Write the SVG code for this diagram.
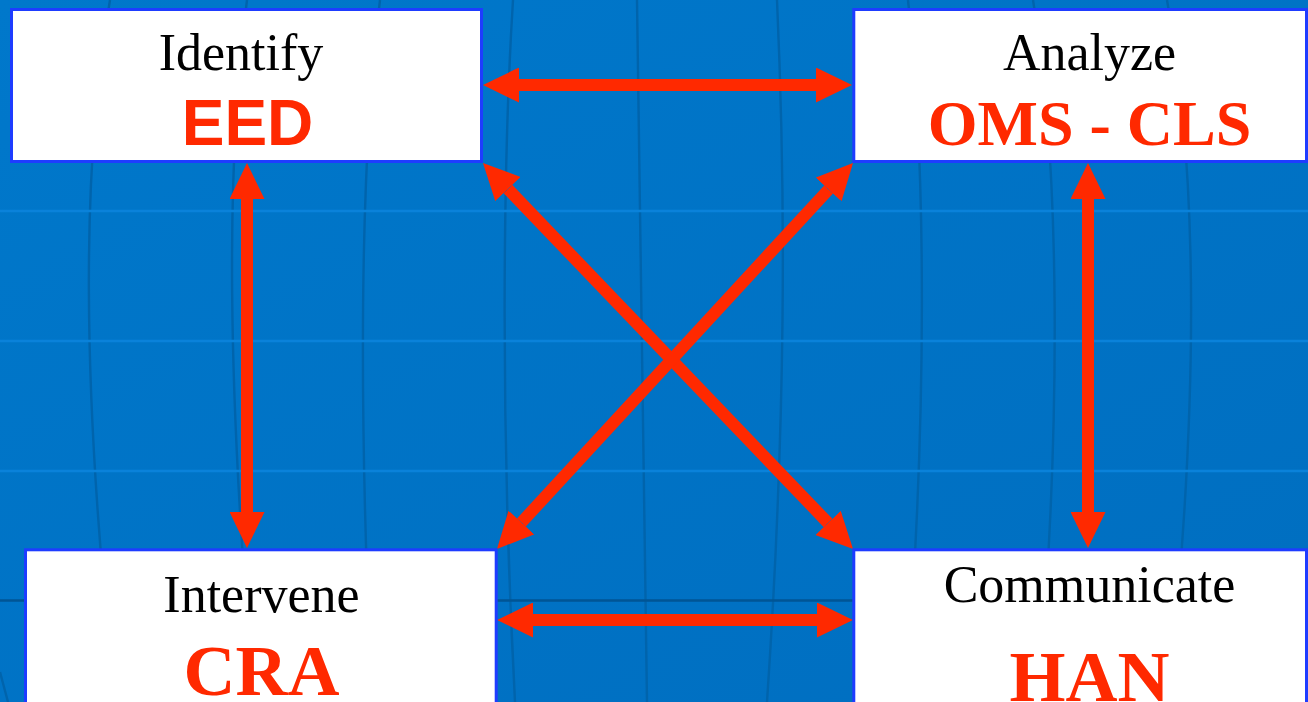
<svg xmlns="http://www.w3.org/2000/svg" width="1308" height="702" viewBox="0 0 1308 702">
  <defs>
    <linearGradient id="bg" x1="0" y1="0" x2="1" y2="1">
      <stop offset="0" stop-color="#0078CB"/>
      <stop offset="1" stop-color="#006EC0"/>
    </linearGradient>
    <marker id="ah" markerUnits="userSpaceOnUse" viewBox="0 0 36 35" markerWidth="36" markerHeight="35" refX="0" refY="17.5" orient="auto-start-reverse">
      <path d="M0,0 L36,17.5 L0,35 Z" fill="#FF2900"/>
    </marker>
  </defs>
  <style>
    .mer { fill: none; stroke: #0064AC; stroke-width: 2.4; }
    .lat { stroke: #0A82DA; stroke-width: 2.5; }
    .latd { stroke: #005595; stroke-width: 2.5; }
    .box { fill: #FFFFFF; stroke: #1E3CFF; stroke-width: 3; }
    .lbl { font-family: "Liberation Serif", "Times New Roman", serif; font-size: 52px; fill: #000000; text-anchor: middle; }
    .code { font-family: "Liberation Serif", "Times New Roman", serif; font-weight: bold; fill: #FF2900; text-anchor: middle; }
    .codes { font-family: "Liberation Sans", Arial, sans-serif; font-weight: bold; fill: #FF2900; text-anchor: middle; }
    .arr { stroke: #FF2900; stroke-width: 12; fill: none; marker-start: url(#ah); marker-end: url(#ah); }
  </style>

  <g id="background">
    <rect x="0" y="0" width="1308" height="702" fill="url(#bg)"/>
    <path class="mer" d="M0,672 L8,702"/>
    <path class="mer" d="M110,0 C82,160 80,380 115,702"/>
    <path class="mer" d="M247,0 C226,160 226,380 254,702"/>
    <path class="mer" d="M380,0 C360,160 358,400 372,702"/>
    <path class="mer" d="M513,0 C503,160 500,420 515,702"/>
    <path class="mer" d="M637,0 C640,200 645,450 647,702"/>
    <path class="mer" d="M777,0 C786,200 786,420 767,702"/>
    <path class="mer" d="M908,0 C926,160 928,420 905,702"/>
    <path class="mer" d="M1033,0 C1060,160 1062,420 1038,702"/>
    <path class="mer" d="M1167,0 C1198,170 1200,400 1168,702"/>
    <line class="lat" x1="0" y1="211" x2="1308" y2="211"/>
    <line class="lat" x1="0" y1="341" x2="1308" y2="341"/>
    <line class="lat" x1="0" y1="471" x2="1308" y2="471"/>
    <line class="latd" x1="0" y1="600.5" x2="1308" y2="600.5"/>
  </g>

  <g id="connectors">
    <line class="arr" x1="519" y1="85" x2="816" y2="85"/>
    <line class="arr" x1="533" y1="620" x2="817" y2="620"/>
    <line class="arr" x1="247" y1="199" x2="247" y2="512"/>
    <line class="arr" x1="1088" y1="199" x2="1088" y2="512"/>
    <line class="arr" x1="507.9" y1="189" x2="828.1" y2="523"/>
    <line class="arr" x1="828.6" y1="189.5" x2="521.4" y2="522.5"/>
  </g>

  <g id="node-identify">
    <rect class="box" x="11.5" y="9.5" width="470" height="152"/>
    <text class="lbl" x="241" y="70">Identify</text>
    <text class="codes" x="247.5" y="145" font-size="64">EED</text>
  </g>

  <g id="node-analyze">
    <rect class="box" x="853.8" y="9.5" width="452.7" height="152"/>
    <text class="lbl" x="1089.5" y="70">Analyze</text>
    <text class="code" x="1089.5" y="145" font-size="64">OMS - CLS</text>
  </g>

  <g id="node-intervene">
    <rect class="box" x="25.5" y="549.8" width="470.7" height="170"/>
    <text class="lbl" x="261.5" y="612">Intervene</text>
    <text class="code" x="261.5" y="695" font-size="72">CRA</text>
  </g>

  <g id="node-communicate">
    <rect class="box" x="853.8" y="549.8" width="452.7" height="170"/>
    <text class="lbl" x="1089.5" y="602">Communicate</text>
    <text class="code" x="1089.5" y="701" font-size="72">HAN</text>
  </g>
</svg>
